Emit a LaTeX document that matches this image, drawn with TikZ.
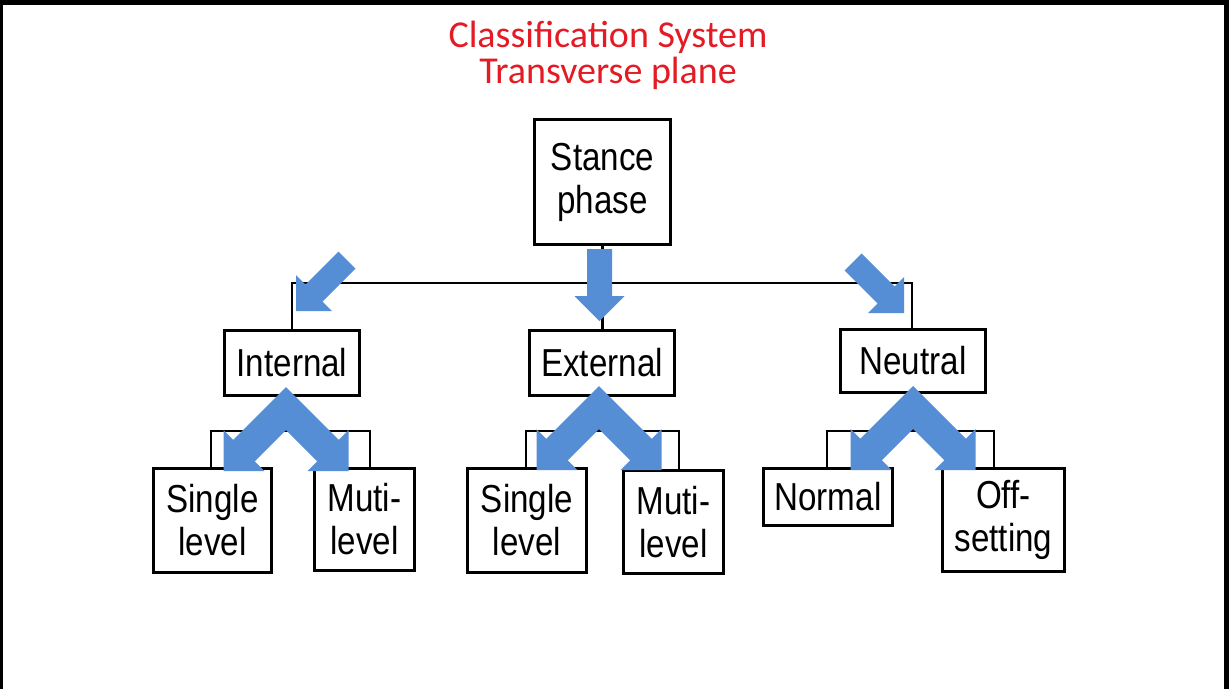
\documentclass[tikz,border=0pt]{standalone}
\usepackage{fontspec}
\newfontfamily\boxfont[FakeStretch=0.85]{Liberation Sans}
\newfontfamily\titlefont{Carlito}
\definecolor{flowblue}{RGB}{85,142,213}
\definecolor{titlered}{RGB}{228,26,36}
\begin{document}
\begin{tikzpicture}[x=1pt,y=-1pt,
  box/.style={draw=black, line width=3pt, inner sep=0pt, align=center,
    font=\boxfont\fontsize{39}{43}\selectfont},
  link/.style={draw=black, line width=2.8pt},
  heading/.style={text=titlered, font=\titlefont\fontsize{38}{36}\selectfont,
    inner sep=0pt, align=center, anchor=base},
  flow/.style={fill=flowblue},
  splitarrow/.pic={
    \fill[flow] (0,0) -- (-52.75,52.75) -- (-62.5,43) -- (-62.5,84) -- (-21.5,84)
      -- (-31.25,74.25) -- (0,43) -- (31.25,74.25) -- (21.5,84) -- (62.5,84)
      -- (62.5,43) -- (52.75,52.75) -- cycle;}
]
\useasboundingbox (0,0) rectangle (1229,689);
\fill[white] (0,0) rectangle (1229,689);

% frame: left, top and right edges
\fill[black] (0,0) rectangle (3,689);
\fill[black] (0,0) rectangle (1229,5);
\fill[black] (1224,0) rectangle (1229,689);

% title (base anchor sits on the last line)
\node[heading] (title) at (608,83) {Classification System\\Transverse plane};

% boxes
\node[box, minimum width=136pt, minimum height=125pt] (stance) at (602.5,182) {Stance\\phase};
\node[box, minimum width=135pt, minimum height=65pt] (internal) at (292,363) {Internal};
\node[box, minimum width=145pt, minimum height=65pt] (external) at (602,363) {External};
\node[box, minimum width=145pt, minimum height=63pt] (neutral) at (913,361) {Neutral};

\node[box, minimum width=118pt, minimum height=104pt] (isingle) at (212.5,520.5) {Single\\level};
\node[box, minimum width=100pt, minimum height=102pt] (imulti) at (364.5,519.5) {Muti-\\level};
\node[box, minimum width=119pt, minimum height=104pt] (esingle) at (527,520.5) {Single\\level};
\node[box, minimum width=100pt, minimum height=103pt] (emulti) at (673.5,522) {Muti-\\level};
\node[box, minimum width=129pt, minimum height=57pt] (normal) at (828,497) {Normal};
\node[box, minimum width=122pt, minimum height=103pt] (offsetting) at (1003.5,520) {Off-\\setting};

% upper connectors
\coordinate (rbar) at (912,283);
\draw[link] (internal.north) |- (rbar) -- (rbar |- neutral.north);
\draw[link] (stance.south) -- (stance.south |- external.north);

% lower connectors
\coordinate (ibar) at (286,431);
\coordinate (ibarL) at (211,431);
\coordinate (ibarR) at (370,431);
\draw[link] (internal.south -| ibar) -- (ibar);
\draw[link] (ibarL |- isingle.north) -- (ibarL) -- (ibarR) -- (ibarR |- imulti.north);

\coordinate (ebar) at (599,431);
\coordinate (ebarL) at (526,431);
\coordinate (ebarR) at (679,431);
\draw[link] (external.south -| ebar) -- (ebar);
\draw[link] (ebarL |- esingle.north) -- (ebarL) -- (ebarR) -- (ebarR |- emulti.north);

\coordinate (nbar) at (913,431);
\coordinate (nbarL) at (827,431);
\coordinate (nbarR) at (994,431);
\draw[link] (neutral.south -| nbar) -- (nbar);
\draw[link] (nbarL |- normal.north) -- (nbarL) -- (nbarR) -- (nbarR |- offsetting.north);

% block arrows
\fill[flow] (338.5,251.5) -- (305.5,284.5) -- (296,275) -- (296,311) -- (332,311)
  -- (322.5,301.5) -- (355.5,268.5) -- cycle;
\fill[flow] (587,249) -- (587,296) -- (574.5,296) -- (599.5,321) -- (624.5,296)
  -- (612,296) -- (612,249) -- cycle;
\fill[flow] (861.5,253.5) -- (894.5,286.5) -- (904,277) -- (904,313) -- (868,313)
  -- (877.5,303.5) -- (844.5,270.5) -- cycle;

\pic (isplit) at (286,387) {splitarrow};
\pic (esplit) at (599,386) {splitarrow};
\pic (nsplit) at (913,386) {splitarrow};
\end{tikzpicture}
\end{document}
